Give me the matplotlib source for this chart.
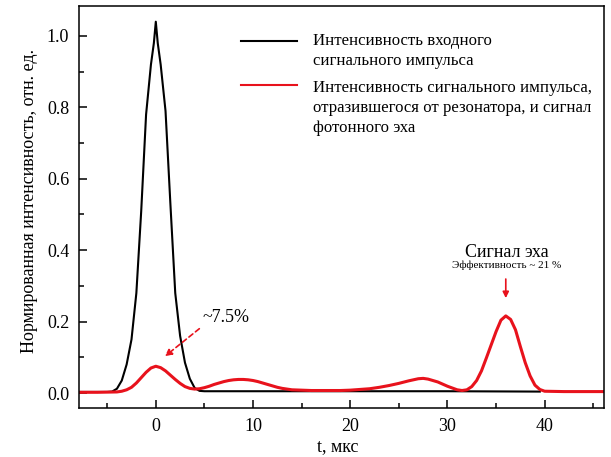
"""Импульс на входе и сигнал фотонного эха."""

import matplotlib
matplotlib.use("Agg")
import matplotlib.pyplot as plt
from matplotlib.ticker import MultipleLocator

plt.rcParams["font.family"] = ["Liberation Serif", "DejaVu Serif"]

# входной импульс (чёрная кривая)
t_in = [-8, -6, -5, -4.5, -4, -3.5, -3, -2.5, -2, -1.5, -1, -0.5, -0.2, 0,
        0.2, 0.5, 1, 1.5, 2, 2.5, 3, 3.5, 4, 4.5, 5, 10, 20, 30, 39.5]
i_in = [0.003, 0.003, 0.003, 0.004, 0.012, 0.035, 0.08, 0.15, 0.28, 0.51,
        0.78, 0.92, 0.98, 1.04, 0.98, 0.92, 0.79, 0.53, 0.28, 0.16, 0.085,
        0.04, 0.014, 0.006, 0.005, 0.005, 0.005, 0.005, 0.004]

# отражённый импульс и эхо (красная кривая)
t_echo = [-8, -6, -4, -3.5, -3, -2.5, -2, -1.5, -1, -0.5, 0, 0.5, 1, 1.5, 2,
          2.5, 3, 3.5, 4, 4.5, 5, 5.5, 6, 6.5, 7, 7.5, 8, 8.5, 9, 9.5, 10,
          10.5, 11, 11.5, 12, 12.5, 13, 13.5, 14, 15, 16, 17, 18, 19, 20, 21,
          22, 23, 24, 25, 26, 27, 27.5, 28, 29, 30, 31, 31.5, 32, 32.5, 33,
          33.5, 34, 34.5, 35, 35.5, 36, 36.5, 37, 37.5, 38, 38.5, 39, 39.5,
          40, 42, 44, 46]
i_echo = [0.002, 0.002, 0.003, 0.005, 0.009, 0.016, 0.028, 0.043, 0.058,
          0.070, 0.075, 0.071, 0.062, 0.050, 0.038, 0.027, 0.018, 0.013,
          0.011, 0.012, 0.015, 0.019, 0.024, 0.028, 0.032, 0.035, 0.037,
          0.038, 0.038, 0.037, 0.035, 0.032, 0.028, 0.024, 0.020, 0.016,
          0.013, 0.011, 0.009, 0.008, 0.007, 0.007, 0.007, 0.007, 0.008,
          0.010, 0.012, 0.016, 0.021, 0.027, 0.034, 0.040, 0.041, 0.039,
          0.031, 0.019, 0.009, 0.007, 0.009, 0.018, 0.035, 0.062, 0.098,
          0.135, 0.172, 0.204, 0.216, 0.206, 0.177, 0.130, 0.085, 0.048,
          0.022, 0.010, 0.005, 0.004, 0.004, 0.004]

legend_in = ["Интенсивность входного", "сигнального импульса"]
legend_echo = ["Интенсивность сигнального импульса,",
               "отразившегося от резонатора, и сигнал",
               "фотонного эха"]

RED = "#e8121c"

fig = plt.figure(figsize=(6.11, 4.57), dpi=100)
ax = fig.add_axes([0.1293, 0.1072, 0.8592, 0.8797])

ax.plot(t_in, i_in, color="black", lw=1.5)
ax.plot(t_echo, i_echo, color=RED, lw=2.2)

ax.set_xlim(-7.9, 46.1)
ax.set_ylim(-0.042, 1.084)
ax.xaxis.set_major_locator(MultipleLocator(10))
ax.xaxis.set_minor_locator(MultipleLocator(5))
ax.yaxis.set_major_locator(MultipleLocator(0.2))
ax.yaxis.set_minor_locator(MultipleLocator(0.1))
ax.yaxis.set_major_formatter(plt.FuncFormatter(lambda v, p: f"{v:.1f}"))
ax.tick_params(which="both", direction="in", top=False, right=False,
               labelsize=13, width=1.1)
ax.tick_params(which="major", length=6, pad=7)
ax.tick_params(which="minor", length=3.5)
for s in ax.spines.values():
    s.set_linewidth(1.1)

ax.set_xlabel("t, мкс", fontsize=13)
ax.set_ylabel("Нормированная интенсивность, отн. ед.", fontsize=13)
ax.xaxis.set_label_coords(0.493, -0.075)
ax.yaxis.set_label_coords(-0.078, 0.515)

# легенда: образцы линий и подписи построчно
ax.plot([0.309, 0.415], [0.913, 0.913], color="black", lw=1.5,
        transform=ax.transAxes)
ax.plot([0.309, 0.415], [0.803, 0.803], color=RED, lw=1.5,
        transform=ax.transAxes)
for k, line in enumerate(legend_in):
    ax.text(0.446, 0.903 - 0.05 * k, line, transform=ax.transAxes,
            fontsize=12.1, va="baseline")
for k, line in enumerate(legend_echo):
    ax.text(0.446, 0.786 - 0.05 * k, line, transform=ax.transAxes,
            fontsize=12.1, va="baseline")

# подписи
ax.annotate("", xy=(0.72, 0.098), xytext=(4.7, 0.185),
            arrowprops=dict(arrowstyle="-|>", color=RED, lw=1.2,
                            linestyle=(0, (3, 2)), mutation_scale=10))
ax.text(7.2, 0.199, "~7.5%", fontsize=13, ha="center", va="baseline")

ax.text(36.1, 0.381, "Сигнал эха", fontsize=13, ha="center", va="baseline")
ax.text(36.1, 0.350, "Эффективность ~ 21 %", fontsize=8, ha="center",
        va="baseline")
ax.annotate("", xy=(36, 0.258), xytext=(36, 0.327),
            arrowprops=dict(arrowstyle="-|>", color=RED, lw=1.2,
                            mutation_scale=9))

fig.savefig("out.png", dpi=100)
